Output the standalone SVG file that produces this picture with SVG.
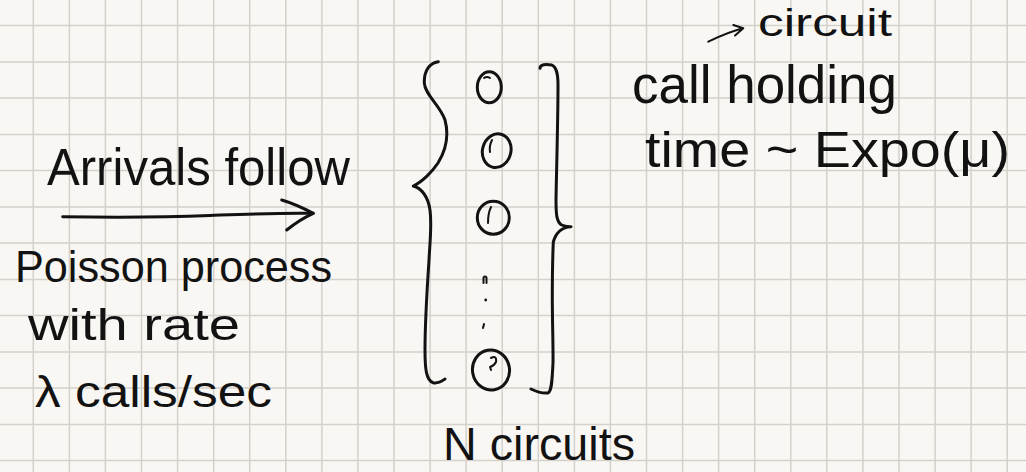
<svg xmlns="http://www.w3.org/2000/svg" width="1026" height="472" viewBox="0 0 1026 472">
  <style>
    .ink { fill: none; stroke: #121212; stroke-width: 3; stroke-linecap: round; stroke-linejoin: round; }
    .thin { stroke-width: 2; }
    .hand { font-family: "Liberation Sans", "DejaVu Sans", sans-serif; fill: #121212; }
    .grid { fill: none; stroke: #d4d1cb; stroke-width: 1.5; }
  </style>

  <!-- paper -->
  <rect width="1026" height="472" fill="#f9f7f3"/>
  <path class="grid" d="M33.3 0V472M69.4 0V472M105.4 0V472M141.5 0V472M177.6 0V472M213.7 0V472M249.7 0V472M285.8 0V472M321.9 0V472M357.9 0V472M394 0V472M430.1 0V472M466.1 0V472M502.2 0V472M538.3 0V472M574.4 0V472M610.4 0V472M646.5 0V472M682.6 0V472M718.6 0V472M754.7 0V472M790.8 0V472M826.8 0V472M862.9 0V472M899 0V472M935.1 0V472M971.1 0V472M1007.2 0V472
    M0 25.6H1026M0 61.9H1026M0 98.1H1026M0 134.4H1026M0 170.6H1026M0 206.9H1026M0 243.1H1026M0 279.4H1026M0 315.6H1026M0 351.9H1026M0 388.1H1026M0 424.4H1026M0 460.6H1026"/>

  <!-- arrival description -->
  <g id="arrivals">
    <text class="hand" x="47" y="185" font-size="52" textLength="303" lengthAdjust="spacingAndGlyphs">Arrivals follow</text>
    <text class="hand" x="15" y="282" font-size="44" textLength="317" lengthAdjust="spacingAndGlyphs">Poisson process</text>
    <text class="hand" x="28" y="340" font-size="44" textLength="212" lengthAdjust="spacingAndGlyphs">with rate</text>
    <text class="hand" x="35" y="407" font-size="44" textLength="237" lengthAdjust="spacingAndGlyphs">λ calls/sec</text>
  </g>

  <!-- bank of N circuits -->
  <g id="circuits">
    <path class="ink" d="M438.3 61.7C430 63 424 70 424.3 83C425 95 440 105 445 120C449 135 446 150 438 163C432 172 422 182 413.3 186C421 188 428 196 430 210C432 225 430 240 429 260C427 290 425 320 425 350C425 368 426 380 433 382.7C438 384 442 381 445 379"/>
    <ellipse class="ink" cx="489.3" cy="87.3" rx="12" ry="15.5"/>
    <path class="ink thin" d="M484 78Q487 76 490 78"/>
    <ellipse class="ink" cx="496.7" cy="150.7" rx="14.2" ry="17" transform="rotate(15 496.7 150.7)"/>
    <path class="ink thin" d="M492 140Q489 146 490 152"/>
    <ellipse class="ink" cx="493.3" cy="217.7" rx="16" ry="16.5"/>
    <path class="ink thin" d="M491 207Q488 213 488 223"/>
    <path class="ink thin" d="M483.5 283V277.5Q485 275.5 486.5 277.5V283"/>
    <circle cx="485.7" cy="300" r="1.4" fill="#121212"/>
    <path class="ink thin" d="M484 324L483 328"/>
    <ellipse class="ink" cx="491" cy="370" rx="18.5" ry="20" transform="rotate(-10 491 370)"/>
    <path class="ink thin" d="M491 358Q497 355 496 362Q494 366 490 367L491 370"/>
    <path class="ink" d="M540 68.3C540 64 546 64 551.7 65C556 67 558 72 558 85C558 120 556.5 170 556 200C556 214 556.5 222 561.7 225C565 226.5 568 226.5 571 226.7C563 227 556 232 553.3 242C552.5 260 552.3 290 552.3 300C552.5 330 553.3 350 553 363C552 380 552 391 548 393C543 393.5 537 392 531 389"/>
    <text class="hand" x="443" y="460" font-size="46" textLength="192" lengthAdjust="spacingAndGlyphs">N circuits</text>
  </g>

  <!-- holding time note -->
  <g id="holding">
    <text class="hand" x="758" y="36" font-size="38" textLength="134" lengthAdjust="spacingAndGlyphs">circuit</text>
    <text class="hand" x="632" y="103" font-size="54" textLength="265" lengthAdjust="spacingAndGlyphs">call holding</text>
    <text class="hand" x="645" y="167" font-size="50" textLength="365" lengthAdjust="spacingAndGlyphs">time ~ Expo(μ)</text>
  </g>

  <!-- arrows -->
  <g id="connectors">
    <path class="ink" d="M62.7 216.7C110 217.5 160 217.5 210 215.5C250 214 285 212.5 313.3 213.3"/>
    <path class="ink" d="M281.7 200C292 203 303 208 313.3 213.3C303 218 294 224 286.7 230"/>
    <path class="ink thin" d="M708.3 41.7C720 36 732 31 743.3 28.3M733.3 25L743.3 28.3L735 35.5"/>
  </g>
</svg>
